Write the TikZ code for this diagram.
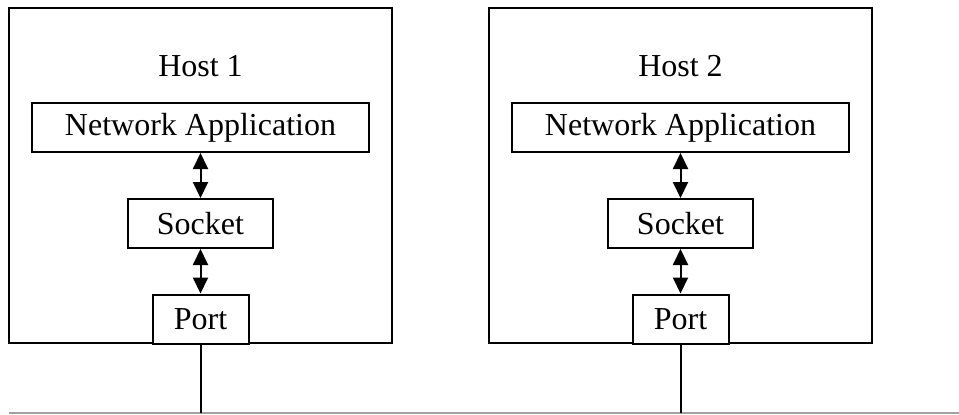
\documentclass[tikz,border=0pt]{standalone}
\usepackage{fontspec}
\setmainfont{Liberation Serif}
\usetikzlibrary{arrows.meta}
\begin{document}
\begin{tikzpicture}[x=1pt,y=-1pt,
  hostbox/.style={draw, line width=2pt, minimum width=383pt, minimum height=335pt, inner sep=0pt},
  layerbox/.style={draw, line width=2pt, fill=white, inner sep=0pt, minimum height=49pt,
                   font=\fontsize{32}{38}\selectfont},
  hosttitle/.style={inner sep=0pt, font=\fontsize{32}{38}\selectfont},
  link/.style={line width=2pt, {Triangle[width=15pt,length=16pt]}-{Triangle[width=15pt,length=16pt]}},
  wire/.style={line width=2pt},
  bus/.style={line width=2pt, draw=black!37}
]
\useasboundingbox (0,0) rectangle (959,415);

% the shared medium both hosts attach to
\coordinate (busL) at (8.5,413);
\coordinate (busR) at (959,413);
\coordinate (tap1) at (200.5,413);
\coordinate (tap2) at (680.5,413);
\draw[bus] (busL) -- (busR);

% Host 1
\node[hostbox] (host1) at (200.5,175.5) {};
\node[hosttitle] (title1) at (200.5,66) {Host 1};
\node[layerbox, minimum width=337pt] (app1) at (200.5,127.5) {Network Application};
\node[layerbox, minimum width=145pt] (sock1) at (200.5,223.5) {Socket};
\node[layerbox, minimum width=96pt] (port1) at (200.5,319) {Port};
\draw[link] (app1.south) -- (sock1.north);
\draw[link] (sock1.south) -- (port1.north);
\draw[wire] (port1.south) -- (tap1);

% Host 2
\node[hostbox] (host2) at (680.5,175.5) {};
\node[hosttitle] (title2) at (680.5,66) {Host 2};
\node[layerbox, minimum width=337pt] (app2) at (680.5,127.5) {Network Application};
\node[layerbox, minimum width=145pt] (sock2) at (680.5,223.5) {Socket};
\node[layerbox, minimum width=96pt] (port2) at (680.5,319) {Port};
\draw[link] (app2.south) -- (sock2.north);
\draw[link] (sock2.south) -- (port2.north);
\draw[wire] (port2.south) -- (tap2);
\end{tikzpicture}
\end{document}
